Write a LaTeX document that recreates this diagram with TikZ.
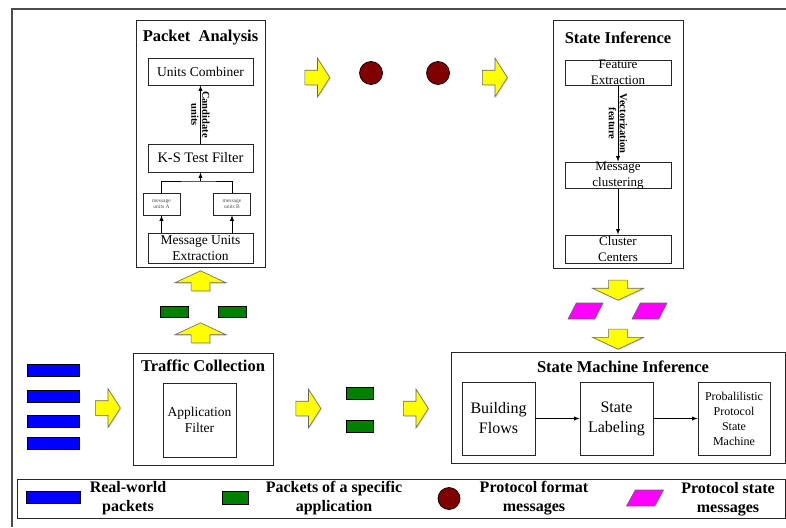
\documentclass[tikz,border=0pt]{standalone}
\usepackage{fontspec}
\setmainfont{Liberation Serif}
\usetikzlibrary{positioning,shapes.arrows,shapes.geometric,shadows}

\definecolor{pktblue}{RGB}{0,0,255}
\definecolor{pktgreen}{RGB}{0,128,0}
\definecolor{fmtred}{RGB}{128,0,0}
\definecolor{statepink}{RGB}{255,0,255}
\definecolor{flowyellow}{RGB}{255,255,0}

\tikzset{
  stagebox/.style={draw=black!85, line width=1pt, inner sep=0pt},
  stagetitle/.style={font=\fontsize{16.5}{19}\selectfont\bfseries, inner sep=0pt},
  stepbox/.style={draw=black!85, line width=0.9pt, inner sep=0pt, align=center,
    font=\fontsize{13.5}{16}\selectfont},
  unitbox/.style={draw=black!85, line width=0.7pt, inner sep=0pt, align=center,
    minimum width=37pt, minimum height=22pt, text=black!70,
    font=\fontsize{5.5}{6.5}\selectfont},
  edgelabel/.style={font=\fontsize{10.5}{11}\selectfont\bfseries, align=center, inner sep=0pt},
  flowarrow/.style={single arrow, fill=flowyellow, draw=black!60, line width=0.6pt,
    inner xsep=0pt, single arrow head indent=0pt,
    drop shadow={shadow xshift=1pt, shadow yshift=-1pt, opacity=0.3}},
  flowright/.style={flowarrow, inner ysep=7pt, single arrow head extend=12pt,
    minimum width=38pt, minimum height=25pt, single arrow tip angle=115},
  flowvert/.style={flowarrow, inner ysep=9pt, single arrow head extend=16pt,
    minimum width=51pt, minimum height=20pt, single arrow tip angle=130},
  realpkt/.style={draw=black, fill=pktblue, line width=0.7pt, minimum width=52pt, minimum height=12pt, inner sep=0pt},
  apppkt/.style={draw=black, fill=pktgreen, line width=0.7pt, minimum width=27pt, minimum height=12pt, inner sep=0pt},
  fmtmsg/.style={circle, draw=black, fill=fmtred, line width=0.7pt, minimum size=23pt, inner sep=0pt},
  statemsg/.style={trapezium, trapezium stretches=true, trapezium left angle=66, trapezium right angle=114,
    draw=black!60, fill=statepink, line width=0.6pt, minimum width=35pt, minimum height=16pt, inner sep=1pt},
  legtext/.style={font=\fontsize{16}{19}\selectfont\bfseries, align=center, inner sep=0pt}
}

\begin{document}
\begin{tikzpicture}[x=1pt, y=-1pt, >=latex]
    \useasboundingbox (0,0) rectangle (786,527);
    % outer frame
    \draw[black!70, line width=1.3pt] (786,9) -- (12,9) -- (12,527);

    % PACKET ANALYSIS
    \node[stagebox, minimum width=129pt, minimum height=246pt] (PA) at (200.5,144) {};
    \node[stagetitle] (PAtitle) at (200.5,38) {Packet~~Analysis};
    \node[stepbox, minimum width=105pt, minimum height=27pt] (UC) at (200.5,71.5) {Units Combiner};
    \node[stepbox, minimum width=105pt, minimum height=28pt, font=\fontsize{14.5}{16}\selectfont] (KS) at (200.5,158) {K-S Test Filter};
    \node[unitbox] (MA) at (161.5,204) {message\\units A};
    \node[unitbox] (MB) at (232,204) {message\\units B};
    \node[stepbox, minimum width=105pt, minimum height=30pt] (MUE) at (200.5,248) {Message Units\\Extraction};
    \coordinate (J) at (200.5,181);

    % STATE INFERENCE
    \node[stagebox, minimum width=130pt, minimum height=247pt] (SI) at (618,144.5) {};
    \node[stagetitle] (SItitle) at (618,38) {State Inference};
    \node[stepbox, minimum width=106pt, minimum height=25pt, font=\fontsize{13}{15.5}\selectfont] (FE) at (618,72.5) {Feature\\Extraction};
    \node[stepbox, minimum width=106pt, minimum height=25pt, font=\fontsize{13}{15.5}\selectfont] (MC) at (618,175.5) {Message\\clustering};
    \node[stepbox, minimum width=106pt, minimum height=28pt, font=\fontsize{13}{16}\selectfont] (CC) at (618,249) {Cluster\\Centers};

    % TRAFFIC COLLECTION
    \node[stagebox, minimum width=140pt, minimum height=112pt] (TC) at (203,409) {};
    \node[stagetitle] (TCtitle) at (203,366) {Traffic Collection};
    \node[stepbox, minimum width=73pt, minimum height=74pt] (AF) at (199.5,420) {Application\\Filter};

    % STATE MACHINE INFERENCE
    \node[stagebox, minimum width=334pt, minimum height=111pt] (SMI) at (618,407.5) {};
    \node[stagetitle] (SMItitle) at (623,367) {State Machine Inference};
    \node[stepbox, minimum width=73pt, minimum height=73pt, font=\fontsize{16}{20}\selectfont] (BF) at (498.5,418.5) {Building\\Flows};
    \node[stepbox, minimum width=73pt, minimum height=73pt, font=\fontsize{16}{20}\selectfont] (SL) at (616.5,418.5) {State\\Labeling};
    \node[stepbox, minimum width=72pt, minimum height=73pt, font=\fontsize{12}{15}\selectfont] (PPSM) at (734,418.5) {Probalilistic\\Protocol\\State\\Machine};

    % PACKETS AND MESSAGES
    \node[realpkt] (rw1) at (53,370) {};
    \node[realpkt] (rw2) at (53,396) {};
    \node[realpkt] (rw3) at (53,421.5) {};
    \node[realpkt] (rw4) at (53,443) {};
    \node[flowright] (fr1) at (105.5,408) {};
    \node[flowright] (fr2) at (306,408.5) {};
    \node[apppkt] (ap1) at (360,393.5) {};
    \node[apppkt] (ap2) at (360,426.5) {};
    \node[flowright] (fr3) at (413.5,408.5) {};

    \node[flowvert, rotate=90] (fu1) at (200.5,335) {};
    \node[apppkt, minimum width=28pt, minimum height=11pt] (ap3) at (174,311.5) {};
    \node[apppkt, minimum width=28pt, minimum height=11pt] (ap4) at (232,311.5) {};
    \node[flowvert, rotate=90] (fu2) at (200.5,283) {};

    \node[flowright] (fr4) at (315,77.5) {};
    \node[fmtmsg] (fm1) at (371,73) {};
    \node[fmtmsg] (fm2) at (438,73) {};
    \node[flowright] (fr5) at (492.5,77.5) {};

    \node[flowvert, rotate=-90] (fd1) at (618,288) {};
    \node[statemsg] (sm1) at (585.5,311) {};
    \node[statemsg] (sm2) at (649.5,311) {};
    \node[flowvert, rotate=-90] (fd2) at (618,337) {};

    % LEGEND
    \node[draw=black!85, line width=1pt, minimum width=768pt, minimum height=39pt, inner sep=0pt] (leg) at (401,498.5) {};
    \node[realpkt, minimum width=54pt] (legrw) at (53,497) {};
    \node[legtext] (legrwt) at (128,498) {Real-world\\packets};
    \node[apppkt, minimum width=26pt, minimum height=13pt] (legap) at (235,497.5) {};
    \node[legtext] (legapt) at (334,498) {Packets of a specific\\application};
    \node[fmtmsg, minimum size=22pt] (legfm) at (449,498.5) {};
    \node[legtext] (legfmt) at (534,498) {Protocol format\\messages};
    \node[statemsg, minimum width=37pt] (legsm) at (645,498) {};
    \node[legtext] (legsmt) at (728,499) {Protocol state\\messages};

    % ARROWS
    \draw[->, line width=0.9pt] (MUE.north -| MA) -- (MA.south);
    \draw[->, line width=0.9pt] (MUE.north -| MB) -- (MB.south);
    \draw[line width=0.9pt] (MA.north) |- (J) -| (MB.north);
    \draw[->, line width=0.9pt] (J) -- (KS.south);
    \draw[->, line width=0.9pt] (KS.north) -- node[edgelabel, rotate=-90] {Candidate\\units} (UC.south);

    \draw[->, line width=0.9pt] (FE.south) -- node[edgelabel, rotate=-90] {Vectorization\\feature} (MC.north);
    \draw[->, line width=0.9pt] (MC.south) -- (CC.north);

    \draw[->, line width=0.9pt] (BF.east) -- (SL.west);
    \draw[->, line width=0.9pt] (SL.east) -- (PPSM.west);
\end{tikzpicture}
\end{document}
